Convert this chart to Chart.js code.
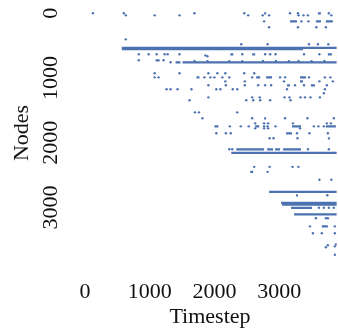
<!DOCTYPE html>
<html>
<head>
<meta charset="utf-8">
<script src="https://cdn.jsdelivr.net/npm/chart.js@4/dist/chart.umd.min.js"></script>
<style>
  html, body { margin: 0; padding: 0; background: #fff; }
  #wrap { width: 338px; height: 335px; position: relative; }
</style>
</head>
<body>
<div id="wrap"><canvas id="nodeChart"></canvas></div>
<script>
const xTicks = [0, 1000, 2000, 3000];
const yTicks = [0, 1000, 2000, 3000];

// single activity events: [timestep, node]
const dots = [
  [123,0],[600,0],[1692,0],[2461,0],[3168,0],[3291,0],[3768,0],
  [631,31],[1077,31],[1461,31],[2522,31],[2745,31],[2845,31],[3299,31],[3376,31],[3445,31],[3807,31],
  [2768,124],[3345,124],[3453,124],
  [2845,216],[3291,216],[3576,216],[3722,216],
  [631,402],
  [2415,479],[2822,479],[3461,479],[3599,479],[3760,479],
  [831,633],[984,633],[1107,633],[1230,633],[1277,633],[1461,633],[2430,633],[2784,633],[2861,633],[2945,633],[3384,633],[3622,633],
  [1861,650],[1892,664],
  [831,726],[1215,726],
  [1323,757],
  [1692,735],[1892,740],[2230,740],[2430,740],[2750,735],[2950,735],[3150,740],[3300,735],[3500,740],[3700,735],
  [1077,927],[1461,927],[1907,927],[2046,927],[2169,927],[2461,927],[2615,927],
  [1077,989],[1138,989],[1846,989],[1938,989],[2000,989],[2122,989],[2230,989],[2584,989],[3015,989],[3092,989],[3461,989],[3707,989],[3792,989],
  [2169,1051],[2469,1051],[3076,1051],[3622,1051],[3830,1051],
  [1907,1112],[2177,1112],[2469,1112],[2676,1112],[2784,1112],[2876,1112],[3245,1112],[3384,1112],[3737,1112],
  [1261,1174],[1323,1174],[1430,1174],[1646,1174],[2030,1174],[2092,1174],[2284,1174],[2353,1174],[3122,1174],[3707,1174],
  [3691,1236],
  [1907,1298],[2584,1298],[2700,1298],[3084,1298],[3160,1298],[3330,1298],[3399,1298],[3484,1298],[3630,1298],
  [1615,1344],[2492,1344],[2600,1344],[2707,1344],[2861,1344],[3176,1344],
  [1700,1530],[1761,1530],[2353,1530],
  [1815,1622],[2584,1622],[3092,1622],[3438,1622],[3845,1622],
  [2630,1700],[2768,1700],[2830,1700],[3214,1700],[3737,1700],[3799,1700],
  [2238,1746],[2407,1746],[2530,1746],[2768,1746],[2822,1746],[2945,1746],[3537,1746],[3607,1746],[3691,1746],
  [2630,1777],[2768,1777],[2830,1777],[3322,1777],
  [2030,1854],[2177,1854],[2253,1854],[3276,1854],[3468,1854],[3753,1854],
  [2853,1931],[2914,1931],[3284,1931],
  [2230,2101],[2276,2101],[3445,2101],[3768,2101],
  [2615,2372],[2853,2372],[3207,2372],[3299,2372],
  [2822,2449],
  [3622,2572],[3807,2572],
  [3745,2812],
  [3614,3005],[3691,3005],[3768,3005],[3845,3005],
  [3568,3167],[3722,3167],[3753,3167],
  [3476,3291],[3861,3291],
  [3522,3399],[3660,3399],[3861,3399],
  [3722,3615],[3753,3584],[3861,3600],[3876,3570],
  [3861,3730]
];

// continuous activity: [node, first timestep, last timestep]
const runs = [
  [0,2768,2799],[0,3599,3645],
  [124,3168,3276],[124,3568,3645],[124,3722,3830],
  [535,569,3891],[553,569,3368],
  [633,2246,2292],[633,2584,2630],[633,3753,3814],
  [726,1092,1154],
  [757,1400,1476],[757,1507,3891],
  [989,1723,1769],[989,2645,2707],[989,2799,2891],[989,3322,3414],
  [1051,3322,3368],
  [1112,3122,3168],[1112,3491,3553],
  [1622,2768,2799],
  [1746,2000,2061],[1746,2630,2692],[1746,3199,3338],[1746,3722,3876],
  [1854,3107,3199],
  [1931,3753,3784],
  [2101,2338,2768],[2101,2815,2907],[2101,2938,3015],[2101,3061,3338],
  [2155,2261,3891],
  [2449,2553,2599],
  [2758,2845,3891],
  [2812,3261,3291],
  [2930,3030,3891],[2955,3045,3891],
  [3005,3184,3507],
  [3105,3230,3891],
  [3291,3660,3753]
];

const blue = "#4c72b0";
const labelFont = '22px "Liberation Serif", "Times New Roman", serif';

const dotData = dots.map(([t, n]) => ({ x: t, y: n }));
const runData = runs.flatMap(([n, s, e]) => [
  { x: s, y: n },
  { x: e, y: n },
  { x: e, y: null }
]);

// axis labels are drawn from the scales, rotated like the original
const axisText = {
  id: "axisText",
  afterDraw(chart) {
    const { ctx } = chart;
    const x = chart.scales.x;
    const y = chart.scales.y;
    ctx.save();
    ctx.fillStyle = "#111";
    ctx.font = labelFont;
    ctx.textAlign = "center";
    ctx.textBaseline = "alphabetic";
    xTicks.forEach((v) => ctx.fillText(String(v), x.getPixelForValue(v), 298));
    yTicks.forEach((v) => {
      ctx.save();
      ctx.translate(57, y.getPixelForValue(v));
      ctx.rotate(-Math.PI / 2);
      ctx.fillText(String(v), 0, 0);
      ctx.restore();
    });
    ctx.fillText("Timestep", 210, 323);
    ctx.translate(28, 133);
    ctx.rotate(-Math.PI / 2);
    ctx.fillText("Nodes", 0, 0);
    ctx.restore();
  }
};

const ctx = document.getElementById("nodeChart").getContext("2d");

new Chart(ctx, {
  type: "scatter",
  data: {
    datasets: [
      {
        label: "runs",
        type: "line",
        data: runData,
        borderColor: blue,
        borderWidth: 2.2,
        pointRadius: 0,
        spanGaps: false,
        fill: false
      },
      {
        label: "events",
        data: dotData,
        backgroundColor: blue,
        borderWidth: 0,
        pointRadius: 1.2,
        pointHoverRadius: 1.2
      }
    ]
  },
  options: {
    responsive: true,
    maintainAspectRatio: false,
    animation: false,
    layout: { padding: { top: 4, right: 0, bottom: 0, left: 0 } },
    plugins: {
      legend: { display: false },
      tooltip: { enabled: false }
    },
    scales: {
      x: {
        type: "linear",
        min: -154,
        max: 3891,
        grid: { display: false },
        border: { display: false },
        ticks: { display: false },
        afterFit: (scale) => { scale.height = 60; }
      },
      y: {
        type: "linear",
        reverse: true,
        min: -144,
        max: 4043,
        grid: { display: false },
        border: { display: false },
        ticks: { display: false },
        afterFit: (scale) => { scale.width = 75; }
      }
    }
  },
  plugins: [axisText]
});
</script>
</body>
</html>
